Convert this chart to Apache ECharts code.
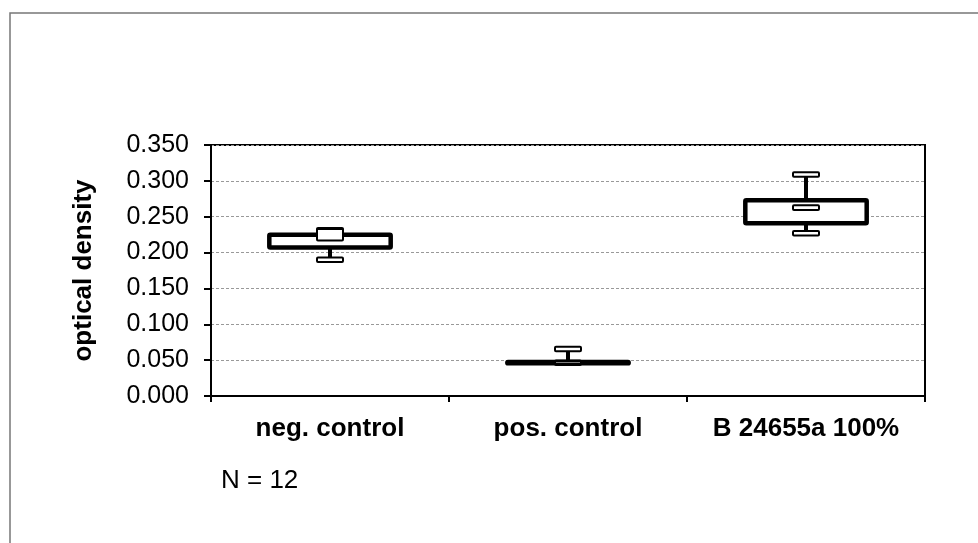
<!DOCTYPE html>
<html>
<head>
<meta charset="utf-8">
<script src="https://cdn.jsdelivr.net/npm/echarts@6/dist/echarts.min.js"></script>
<style>
html,body{margin:0;padding:0;background:#fff;}
#c{width:978px;height:543px;}
</style>
</head>
<body>
<div id="c"></div>
<script>
// Data
const categories = ['neg. control', 'pos. control', 'B 24655a 100%'];
const minVals    = [0.190, 0.0462, 0.227];
const q1Vals     = [0.207, 0.0455, 0.241];
const q3Vals     = [0.225, 0.0475, 0.273];
const maxVals    = [0.231, 0.0655, 0.309];
// median marker band (low / high edge)
const medLowVals  = [0.217, 0.0446, 0.2595];
const medHighVals = [0.233, 0.0480, 0.2660];
const yTicks = [0, 0.05, 0.10, 0.15, 0.20, 0.25, 0.30, 0.35];
const noteText = 'N = 12';
const yTitle = 'optical density';

const boxData = categories.map((c, i) => [i, minVals[i], q1Vals[i], q3Vals[i], maxVals[i], medLowVals[i], medHighVals[i]]);

const chart = echarts.init(document.getElementById('c'), null, {renderer: 'canvas'});

function renderBox(params, api) {
  const idx = api.value(0);
  const x = api.coord([idx, 0])[0];
  const yMin = api.coord([idx, api.value(1)])[1];
  const yQ1 = api.coord([idx, api.value(2)])[1];
  const yQ3 = api.coord([idx, api.value(3)])[1];
  const yMax = api.coord([idx, api.value(4)])[1];
  const yMedLo = api.coord([idx, api.value(5)])[1];
  const yMedHi = api.coord([idx, api.value(6)])[1];
  const bw = api.size([1, 0])[0] * 0.51;
  const mw = 26, mh = 4.5;
  const lineStyle = {stroke: '#000', lineWidth: 4};
  const marker = (y) => ({
    type: 'rect',
    shape: {x: x - mw / 2, y: y - mh / 2, width: mw, height: mh, r: 1},
    style: {fill: '#fff', stroke: '#000', lineWidth: 2}
  });
  return {
    type: 'group',
    children: [
      {type: 'line', shape: {x1: x, y1: yQ3, x2: x, y2: yMax}, style: lineStyle},
      {type: 'line', shape: {x1: x, y1: yQ1, x2: x, y2: yMin}, style: lineStyle},
      {type: 'rect', shape: {x: x - bw / 2, y: yQ3, width: bw, height: yQ1 - yQ3, r: 1},
        style: {fill: '#fff', stroke: '#000', lineWidth: 4.5, lineJoin: 'round'}},
      marker(yMax),
      marker(yMin),
      {type: 'rect', shape: {x: x - mw / 2, y: yMedHi, width: mw, height: yMedLo - yMedHi, r: 1},
        style: {fill: '#fff', stroke: '#000', lineWidth: 2}}
    ]
  };
}

const FONT = 'Liberation Sans, Arial, sans-serif';
const option = {
  backgroundColor: '#fff',
  animation: false,
  textStyle: {fontFamily: FONT},
  graphic: [
    {type: 'rect', shape: {x: 10, y: 13, width: 1000, height: 600},
      style: {fill: 'none', stroke: '#777', lineWidth: 1.5}, z: 0},
    {type: 'text', left: 221, top: 468,
      style: {text: noteText, font: '26px "Liberation Sans", Arial, sans-serif', fill: '#000'}}
  ],
  grid: {left: 211, right: 53, top: 145, bottom: 147, show: true, borderColor: '#000', borderWidth: 2, backgroundColor: 'transparent'},
  xAxis: {
    type: 'category',
    data: categories,
    boundaryGap: true,
    axisLine: {lineStyle: {color: '#000', width: 2}},
    axisTick: {show: true, length: 6, lineStyle: {color: '#000', width: 2}, alignWithLabel: false},
    axisLabel: {color: '#000', fontSize: 26, fontWeight: 'bold', margin: 20, interval: 0, hideOverlap: false, fontFamily: FONT},
    splitLine: {show: false}
  },
  yAxis: {
    type: 'value',
    min: yTicks[0],
    max: yTicks[yTicks.length - 1],
    interval: 0.05,
    name: yTitle,
    nameLocation: 'middle',
    nameGap: 114,
    nameRotate: 90,
    nameTextStyle: {color: '#000', fontSize: 26, fontWeight: 'bold', fontFamily: FONT},
    axisLine: {show: true, lineStyle: {color: '#000', width: 2}},
    axisTick: {show: true, length: 7, lineStyle: {color: '#000', width: 2}},
    axisLabel: {color: '#000', fontSize: 25, margin: 22, formatter: v => v.toFixed(3), fontFamily: FONT},
    splitLine: {show: true, lineStyle: {color: '#999', width: 1, type: [3, 2]}}
  },
  series: [{
    type: 'custom',
    renderItem: renderBox,
    encode: {x: 0, y: [1, 2, 3, 4, 5, 6]},
    data: boxData,
    z: 5
  }]
};
chart.setOption(option);
</script>
</body>
</html>
